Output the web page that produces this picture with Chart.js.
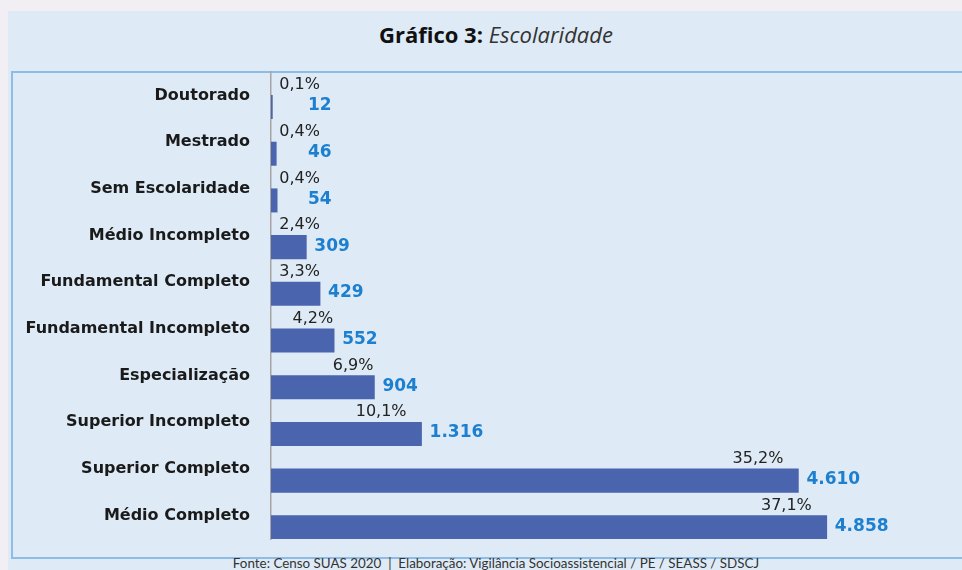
<!DOCTYPE html>
<html lang="pt-BR">
<head>
<meta charset="utf-8">
<title>Gráfico 3: Escolaridade</title>
<script src="https://cdn.jsdelivr.net/npm/chart.js@4.4.1/dist/chart.umd.min.js"></script>
<style>
  html, body { margin: 0; padding: 0; }
  body { width: 962px; height: 570px; background: #f1eff4; position: relative; overflow: hidden; }
  .panel { position: absolute; left: 8px; top: 11px; width: 954px; height: 559px; background: #deebf6; }
  .box { position: absolute; left: 11px; top: 71px; width: 980px; height: 484px; border: 2px solid #8dbde6; }
  .title { position: absolute; left: 0; top: 19px; width: 992px; text-align: center; font-family: "Open Sans", sans-serif; font-size: 22px; color: #111; }
  .title b { font-weight: 700; }
  .title i { color: #333; }
  .footer { position: absolute; left: 0; top: 555px; width: 992px; text-align: center; font-family: Lato, sans-serif; font-size: 13.4px; color: #333; white-space: pre; }
  canvas { position: absolute; left: 0; top: 0; }
</style>
</head>
<body>
<div class="panel"></div>
<div class="box"></div>
<div class="title"><b>Gráfico 3:</b> <i>Escolaridade</i></div>
<div class="footer">Fonte: Censo SUAS 2020  |  Elaboração: Vigilância Socioassistencial / PE / SEASS / SDSCJ</div>
<canvas id="chart" width="962" height="570"></canvas>
<script>
const categories = ['Doutorado', 'Mestrado', 'Sem Escolaridade', 'Médio Incompleto', 'Fundamental Completo',
    'Fundamental Incompleto', 'Especialização', 'Superior Incompleto', 'Superior Completo', 'Médio Completo'];
const counts = [12, 46, 54, 309, 429, 552, 904, 1316, 4610, 4858];
const percents = [0.1, 0.4, 0.4, 2.4, 3.3, 4.2, 6.9, 10.1, 35.2, 37.1];

const fmtCount = n => String(n).replace(/\B(?=(\d{3})+(?!\d))/g, '.');
const fmtPct = p => p.toFixed(1).replace('.', ',') + '%';

// draws the % above each bar and the count at its end
const labelPlugin = {
    id: 'barLabels',
    afterDatasetsDraw(chart) {
        const ctx = chart.ctx;
        const axisX = chart.chartArea.left;
        const pctMeta = chart.getDatasetMeta(0);
        const cntMeta = chart.getDatasetMeta(1);
        ctx.save();
        ctx.textBaseline = 'middle';
        cntMeta.data.forEach((bar, i) => {
            const end = bar.x;
            const len = end - axisX;
            // percent
            ctx.font = '16px "DejaVu Sans"';
            ctx.fillStyle = '#222';
            ctx.textAlign = 'right';
            const pr = Math.max(end - (len > 120 ? 15 : 1), axisX + 49);
            ctx.fillText(fmtPct(percents[i]), pr, pctMeta.data[i].y + 1.5);
            // count
            ctx.font = 'bold 17px "DejaVu Sans"';
            ctx.fillStyle = '#1c7fcf';
            ctx.textAlign = 'left';
            ctx.fillText(fmtCount(counts[i]), Math.max(end + 8, axisX + 37), bar.y - 1);
        });
        ctx.restore();
    }
};

new Chart(document.getElementById('chart'), {
    type: 'bar',
    data: {
        labels: categories,
        datasets: [
            { label: '%', data: percents, xAxisID: 'x2', backgroundColor: 'rgba(0,0,0,0)' },
            { label: 'Total', data: counts, xAxisID: 'x', backgroundColor: '#4a65ae' }
        ]
    },
    options: {
        indexAxis: 'y',
        responsive: false,
        animation: false,
        datasets: { bar: { categoryPercentage: 1, barPercentage: 1 } },
        layout: { padding: { left: 11, top: 72, bottom: 31, right: 0 } },
        plugins: { legend: { display: false }, tooltip: { enabled: false } },
        scales: {
            x: { display: false, min: 0, max: 6040 },
            x2: { display: false, min: 0, max: 100 },
            y: {
                afterFit(scale) { scale.width = 260; },
                grid: { display: false, drawTicks: false },
                border: { display: true, color: '#a5a5a5', width: 1.5 },
                ticks: {
                    padding: 21,
                    color: '#1a1a1a',
                    font: { family: 'DejaVu Sans', size: 16, weight: 'bold' }
                }
            }
        }
    },
    plugins: [labelPlugin]
});
</script>
</body>
</html>
